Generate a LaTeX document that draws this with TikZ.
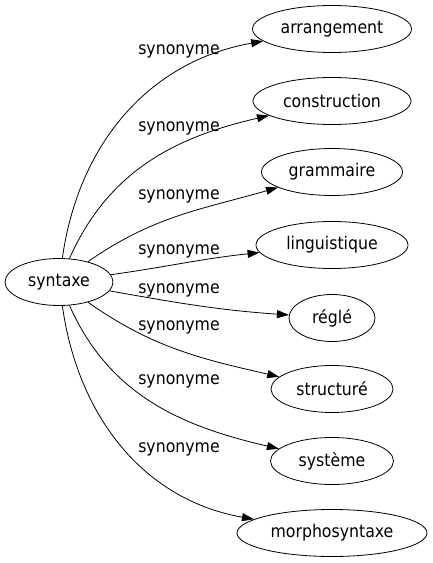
\documentclass[tikz,border=0pt]{standalone}
\usepackage{fontspec}
\setmainfont{DejaVu Sans Condensed}
\usetikzlibrary{
  shapes.geometric, % For ellipse nodes
  arrows.meta % For arrow tips
}

\begin{document}
\begin{tikzpicture}[
      x=1pt, y=1pt, % One unit is one pixel
      line width=0.8pt, % Default line thickness
      >={Triangle[length=12pt, width=8pt]}, % Default arrow tip
      word/.style={draw, ellipse, inner sep=0pt, minimum height=47pt,
        font=\fontsize{17.5}{21}\selectfont}, % Style for word nodes
      rel/.style={->}, % Style for relation arrows
      relname/.style={anchor=base, inner sep=0pt,
        font=\fontsize{17.5}{21}\selectfont}, % Style for relation labels
    ]
    \useasboundingbox (0,0) rectangle (432,563);

    % Ausgangswort
    \node[word, minimum width=108pt] (syn) at (59,281) {syntaxe};

    % Synonyme
    \foreach \n/\txt/\w/\y in {arr/arrangement/159/534, con/construction/158/462,
        gra/grammaire/141/391, lin/linguistique/152/318, reg/réglé/86/245,
        str/structuré/122/174, sys/système/123/102, mor/morphosyntaxe/190/30}
    \node[word, minimum width=\w pt] (\n) at (332,\y) {\txt};

    % Beschriftungen
    \foreach \n/\y in {l1/508, l2/431, l3/363, l4/308, l5/269, l6/232, l7/178, l8/110}
    \node[relname] (\n) at (179,\y) {synonyme};

    % Kanten
    \foreach \n/\o/\i in {arr/82/190, con/66/193, gra/35/196, lin/8/186,
        reg/-10/176, str/-35/167, sys/-66/167, mor/-82/170}
    \draw[rel] (syn) to[out=\o, in=\i] (\n);

  \end{tikzpicture}
\end{document}
